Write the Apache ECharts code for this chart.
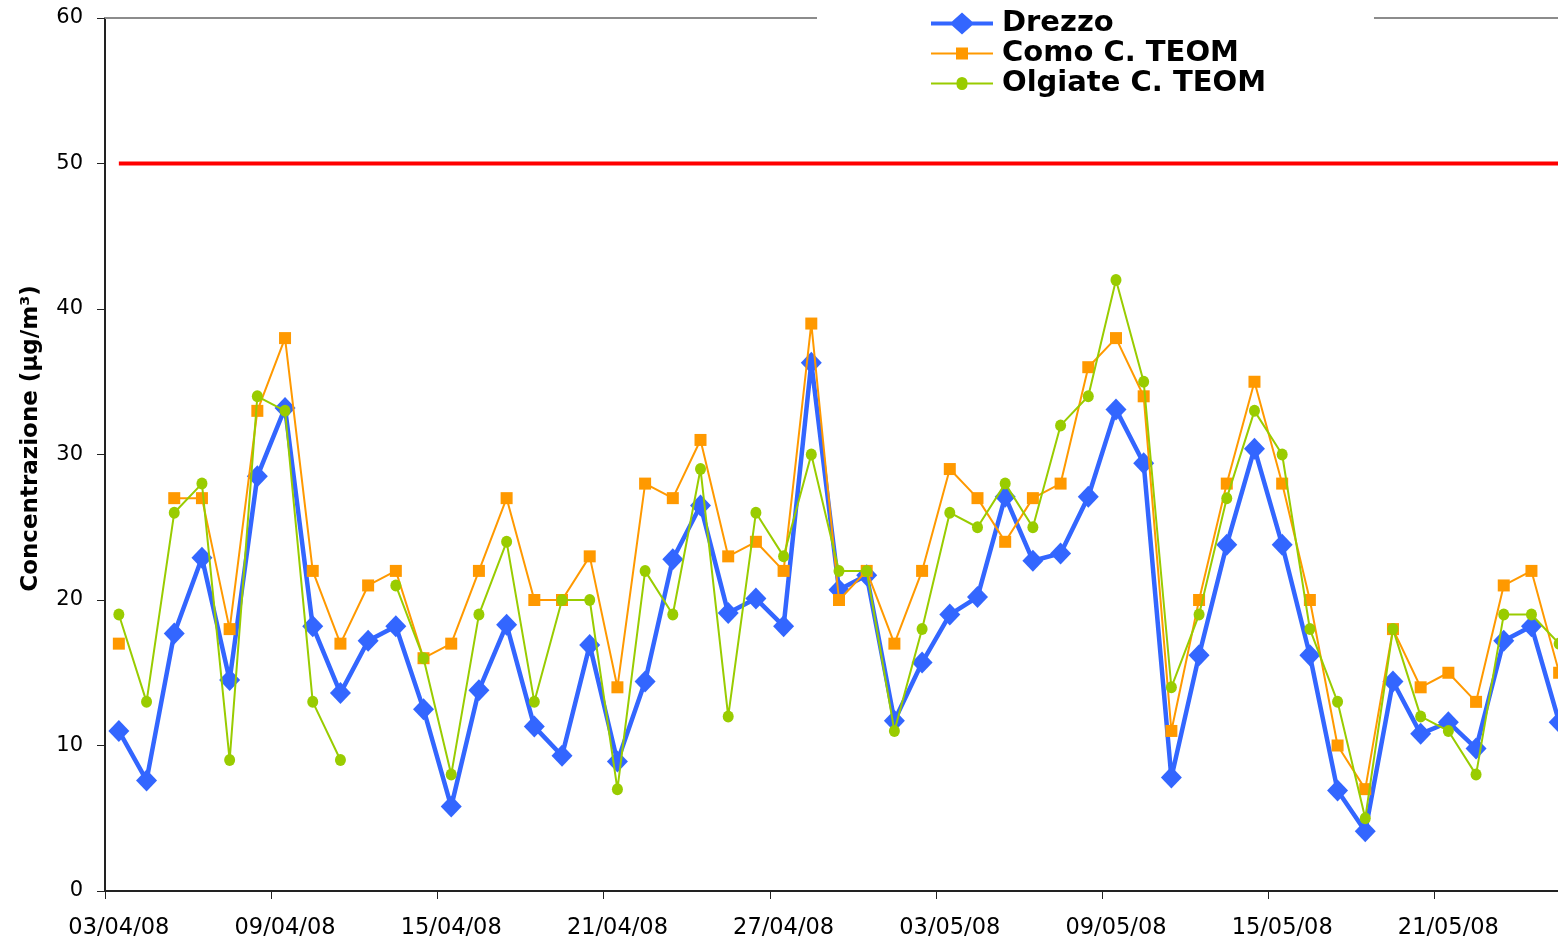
<!DOCTYPE html>
<html>
<head>
<meta charset="utf-8">
<title>PM10 Drezzo - Como - Olgiate</title>
<script src="https://cdn.jsdelivr.net/npm/echarts@6/dist/echarts.min.js"></script>
<style>
  html, body { margin: 0; padding: 0; background: #fff; }
  #chart { width: 1558px; height: 942px; }
</style>
</head>
<body>
<div id="chart"></div>
<script>
// Daily dates, 3 April - 25 May 2008
var dates = [
  '03/04/08','04/04/08','05/04/08','06/04/08','07/04/08','08/04/08','09/04/08','10/04/08',
  '11/04/08','12/04/08','13/04/08','14/04/08','15/04/08','16/04/08','17/04/08','18/04/08',
  '19/04/08','20/04/08','21/04/08','22/04/08','23/04/08','24/04/08','25/04/08','26/04/08',
  '27/04/08','28/04/08','29/04/08','30/04/08','01/05/08','02/05/08','03/05/08','04/05/08',
  '05/05/08','06/05/08','07/05/08','08/05/08','09/05/08','10/05/08','11/05/08','12/05/08',
  '13/05/08','14/05/08','15/05/08','16/05/08','17/05/08','18/05/08','19/05/08','20/05/08',
  '21/05/08','22/05/08','23/05/08','24/05/08','25/05/08'
];

// PM10 daily concentrations (µg/m3)
var drezzo = [
  11.0, 7.6, 17.7, 22.9, 14.5, 28.5, 33.2, 18.2, 13.6, 17.2,
  18.2, 12.5, 5.8, 13.8, 18.3, 11.3, 9.3, 16.9, 8.9, 14.4,
  22.8, 26.5, 19.1, 20.1, 18.2, 36.3, 20.7, 21.7, 11.7, 15.7,
  19.0, 20.2, 27.1, 22.7, 23.2, 27.1, 33.1, 29.4, 7.8, 16.2,
  23.8, 30.4, 23.8, 16.2, 6.9, 4.1, 14.4, 10.8, 11.6, 9.8,
  17.2, 18.2, 11.6
];
var comoTeom = [
  17, null, 27, 27, 18, 33, 38, 22, 17, 21,
  22, 16, 17, 22, 27, 20, 20, 23, 14, 28,
  27, 31, 23, 24, 22, 39, 20, 22, 17, 22,
  29, 27, 24, 27, 28, 36, 38, 34, 11, 20,
  28, 35, 28, 20, 10, 7, 18, 14, 15, 13,
  21, 22, 15
];
var olgiateTeom = [
  19, 13, 26, 28, 9, 34, 33, 13, 9, null,
  21, 16, 8, 19, 24, 13, 20, 20, 7, 22,
  19, 29, 12, 26, 23, 30, 22, 22, 11, 18,
  26, 25, 28, 25, 32, 34, 42, 35, 14, 19,
  27, 33, 30, 18, 13, 5, 18, 12, 11, 8,
  19, 19, 17
];
// Daily limit value
var limitValue = 50;
var limitLine = dates.map(function () { return limitValue; });

var yTicks = { min: 0, max: 60, step: 10 };

var FONT = 'DejaVu Sans, Verdana, sans-serif';

// Legend icons: line segment with the series marker in the middle (drawn in 0..62, box 66 wide)
var iconDrezzo = 'path://M66 11 M0 9 L21 9 L31 0 L41 9 L62 9 L62 13 L41 13 L31 22 L21 13 L0 13 Z';
var iconComo = 'path://M31 0 M31 22 M66 11 M0 10 L25 10 L25 5 L37 5 L37 10 L62 10 L62 12 L37 12 L37 17 L25 17 L25 12 L0 12 Z';
var iconOlgiate = 'path://M31 0 M31 22 M66 11 M0 10 L25.5 10 A5.5 5.5 0 0 1 36.5 10 L62 10 L62 12 L36.5 12 A5.5 5.5 0 0 1 25.5 12 L0 12 Z';

var chart = echarts.init(document.getElementById('chart'), null, { renderer: 'canvas' });

chart.setOption({
  animation: false,
  backgroundColor: '#ffffff',
  textStyle: { fontFamily: FONT },
  // the plot area runs on past the right edge of the page
  grid: { left: 105, width: 1468, top: 18, bottom: 51, containLabel: false, outerBoundsMode: 'none' },
  legend: {
    left: 817,
    top: 0,
    orient: 'vertical',
    backgroundColor: '#ffffff',
    padding: [9, 108, 12, 114],
    itemWidth: 66,
    itemHeight: 22,
    itemGap: 1,
    itemStyle: { borderWidth: 0 },
    textStyle: { fontFamily: FONT, fontWeight: 'bold', fontSize: 29, color: '#000' },
    data: [
      { name: 'Drezzo', icon: iconDrezzo },
      { name: 'Como C. TEOM', icon: iconComo },
      { name: 'Olgiate C. TEOM', icon: iconOlgiate }
    ]
  },
  xAxis: [
    {
      type: 'category',
      data: dates,
      boundaryGap: true,
      position: 'bottom',
      axisLine: { show: true, onZero: false, lineStyle: { color: '#222', width: 2 } },
      axisTick: { show: true, interval: 5, alignWithLabel: false, length: 8, inside: false,
                  lineStyle: { color: '#222', width: 1 } },
      axisLabel: { interval: 5, margin: 26, fontFamily: FONT, fontSize: 22.5, color: '#000' },
      splitLine: { show: false }
    },
    {
      // plot-area top border
      type: 'category',
      data: dates,
      position: 'top',
      axisLine: { show: true, onZero: false, lineStyle: { color: '#8c8c8c', width: 2 } },
      axisTick: { show: false },
      axisLabel: { show: false },
      splitLine: { show: false }
    }
  ],
  yAxis: {
    type: 'value',
    min: yTicks.min,
    max: yTicks.max,
    interval: yTicks.step,
    name: 'Concentrazione (µg/m³)',
    nameLocation: 'middle',
    nameGap: 62,
    nameRotate: 90,
    nameTextStyle: { fontFamily: FONT, fontWeight: 'bold', fontSize: 23, color: '#000', padding: [0, 0, 0, 32] },
    axisLine: { show: true, lineStyle: { color: '#222', width: 2 } },
    axisTick: { show: true, length: 8, inside: false, lineStyle: { color: '#222', width: 1 } },
    axisLabel: { margin: 22, fontFamily: FONT, fontSize: 21, color: '#000' },
    splitLine: { show: false }
  },
  series: [
    {
      name: 'Limite',
      type: 'line',
      data: limitLine,
      symbol: 'none',
      silent: true,
      lineStyle: { color: '#ff0000', width: 4 },
      itemStyle: { color: '#ff0000' },
      z: 1
    },
    {
      name: 'Drezzo',
      type: 'line',
      data: drezzo,
      symbol: 'diamond',
      symbolSize: [21, 22],
      showAllSymbol: true,
      connectNulls: false,
      lineStyle: { color: '#3366ff', width: 4.5 },
      itemStyle: { color: '#3366ff', borderWidth: 0 },
      z: 2
    },
    {
      name: 'Como C. TEOM',
      type: 'line',
      data: comoTeom,
      symbol: 'rect',
      symbolSize: 12,
      showAllSymbol: true,
      connectNulls: false,
      lineStyle: { color: '#ff9900', width: 2 },
      itemStyle: { color: '#ff9900', borderWidth: 0 },
      z: 3
    },
    {
      name: 'Olgiate C. TEOM',
      type: 'line',
      data: olgiateTeom,
      symbol: 'circle',
      symbolSize: [11, 12],
      showAllSymbol: true,
      connectNulls: false,
      lineStyle: { color: '#99cc00', width: 2 },
      itemStyle: { color: '#99cc00', borderWidth: 0 },
      z: 4
    }
  ]
});
</script>
</body>
</html>
